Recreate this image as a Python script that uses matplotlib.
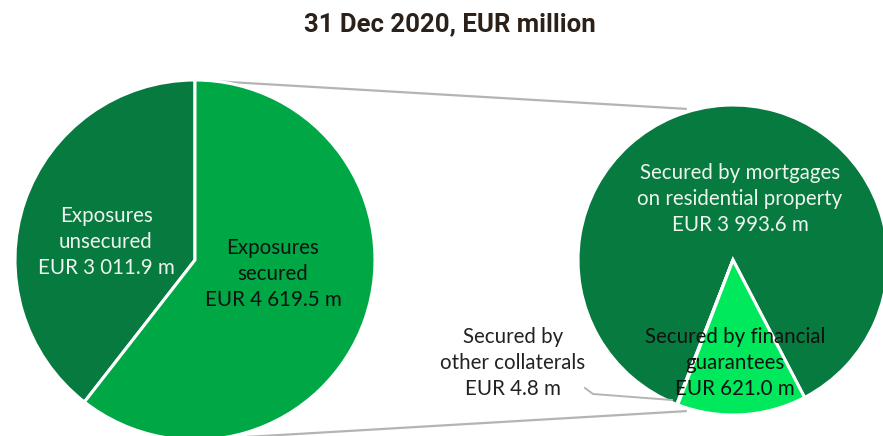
import numpy as np
import matplotlib
matplotlib.use("Agg")
import matplotlib.pyplot as plt

# Exposure split, 31 Dec 2020, EUR million
main_labels = ["Exposures\nunsecured\nEUR 3 011.9 m", "Exposures\nsecured\nEUR 4 619.5 m"]
main_values = [3011.9, 4619.5]
main_colors = ["#077a3f", "#00a845"]

sec_labels = ["Secured by mortgages\non residential property\nEUR 3 993.6 m",
              "Secured by\nother collaterals\nEUR 4.8 m",
              "Secured by financial\nguarantees\nEUR 621.0 m"]
sec_values = [3993.6, 4.8, 621.0]
sec_colors = ["#077a3f", "#00c850", "#00e85c"]

W, H = 883, 436
fig = plt.figure(figsize=(W / 100, H / 100), dpi=100)
ax = fig.add_axes([0, 0, 1, 1])

body_font = ["Lato", "DejaVu Sans"]

# left pie: total exposures
c1, r1 = (195, 176), 180
ax.pie(main_values, colors=main_colors, center=c1, radius=r1, startangle=90,
       counterclock=True, frame=True,
       wedgeprops=dict(edgecolor="white", linewidth=2.2))

# right pie: breakdown of the secured part
c2, r2 = (733, 176), 155
ax.pie(sec_values, colors=sec_colors, center=c2, radius=r2, startangle=297.5,
       counterclock=True, frame=True,
       wedgeprops=dict(edgecolor="white", linewidth=2.2))

ax.set_xlim(0, W)
ax.set_ylim(0, H)
ax.set_aspect("equal")
ax.axis("off")

# connector lines between the two pies
def on_circle(c, r, deg):
    a = np.deg2rad(deg)
    return c[0] + r * np.cos(a), c[1] + r * np.sin(a)

for a_left, a_right in [(90, 107), (270, 253)]:
    p0 = on_circle(c1, r1, a_left)
    p1 = on_circle(c2, r2 + 3, a_right)
    ax.plot([p0[0], p1[0]], [p0[1], p1[1]], color="#b4b4b4", lw=1.6,
            zorder=0, solid_capstyle="butt")

# leader for the tiny "other collaterals" slice
ax.plot([585, 593, 672], [H - 388, H - 394, H - 400], color="#b4b4b4",
        lw=1.4, zorder=3)

fs = 14.8
ls = 1.36
ax.text(106, H - 242, main_labels[0], ha="center", va="center", fontsize=fs,
        color="#eef4ee", family=body_font, linespacing=ls)
ax.text(273, H - 274, main_labels[1], ha="center", va="center", fontsize=fs,
        color="#111111", family=body_font, linespacing=ls)
ax.text(740, H - 199, sec_labels[0], ha="center", va="center", fontsize=fs,
        color="#eef4ee", family=body_font, linespacing=ls)
ax.text(513, H - 363, sec_labels[1], ha="center", va="center", fontsize=fs,
        color="#222222", family=body_font, linespacing=ls)
ax.text(735, H - 363, sec_labels[2], ha="center", va="center", fontsize=fs,
        color="#111111", family=body_font, linespacing=ls, zorder=5)

ax.text(450, H - 24, "31 Dec 2020, EUR million", ha="center", va="center",
        fontsize=18.5, fontweight="bold", color="#2b2118",
        family=["Roboto", "DejaVu Sans"])

fig.savefig("out.png", dpi=100)
